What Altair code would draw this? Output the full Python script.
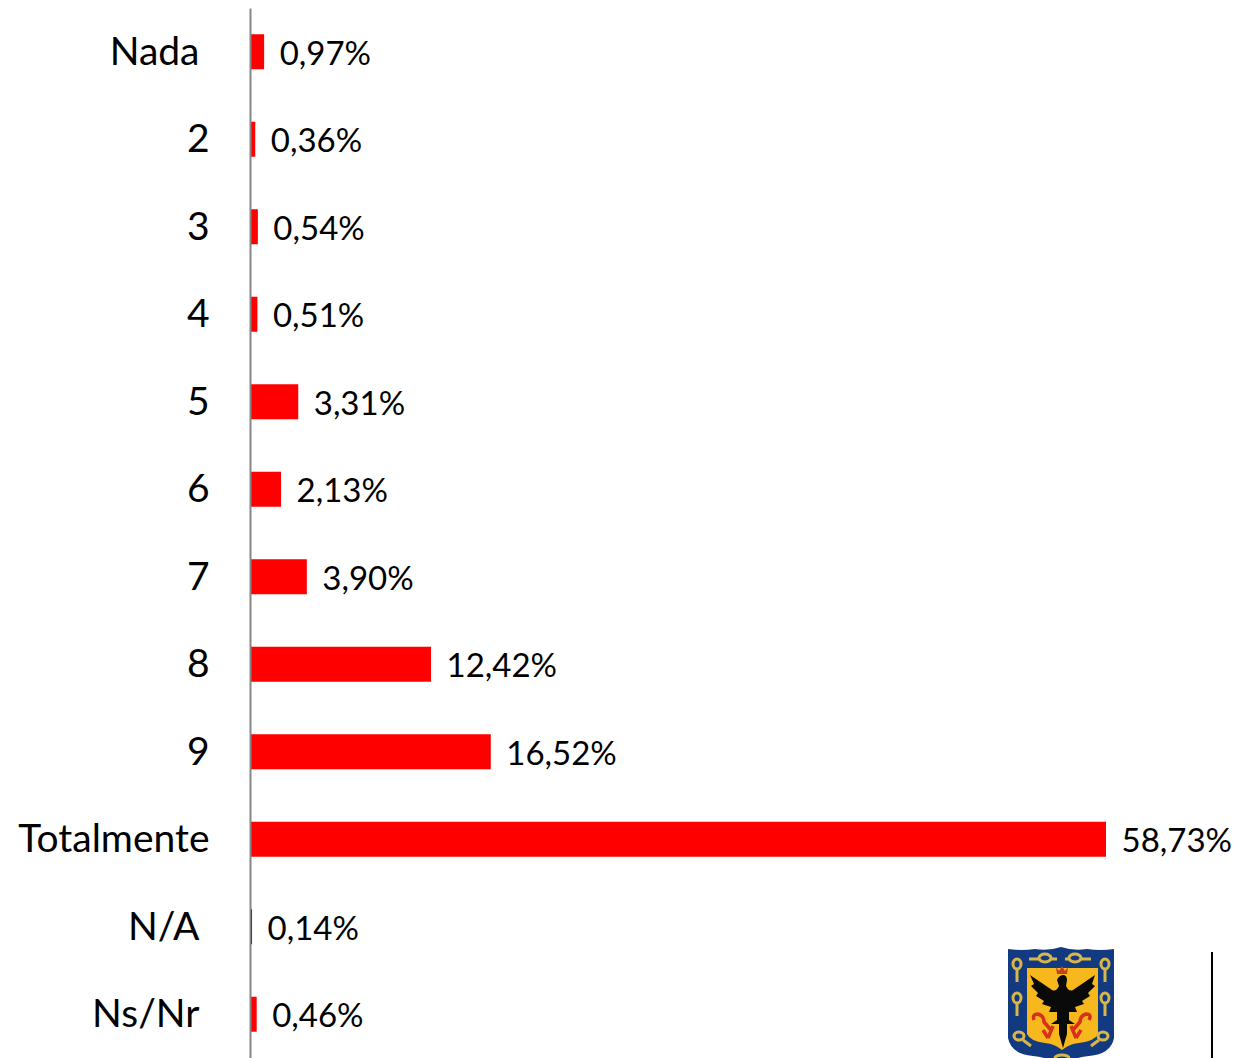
import base64
import altair as alt
import pandas as pd

categories = ["Nada", "2", "3", "4", "5", "6", "7", "8", "9", "Totalmente", "N/A", "Ns/Nr"]
values = [0.97, 0.36, 0.54, 0.51, 3.31, 2.13, 3.90, 12.42, 16.52, 58.73, 0.14, 0.46]
labels = ["0,97%", "0,36%", "0,54%", "0,51%", "3,31%", "2,13%", "3,90%", "12,42%", "16,52%", "58,73%", "0,14%", "0,46%"]
shifted_labels = ["Nada", "N/A", "Ns/Nr"]

FONT = "Lato"
LEFT = 242
PLOT_W = 981
SVG_H = 1050
FULL_H = 1050
X_MAX = PLOT_W / 14.575

df = pd.DataFrame({"cat": categories, "val": values, "label": labels})

# Escudo (logotipo) dibujado como SVG vectorial
shield_svg = """<svg xmlns='http://www.w3.org/2000/svg' viewBox='0 0 108 118' width='108' height='118'>
<path d='M1 3 Q14 5 28 3 Q42 5 54 1 Q66 5 80 3 Q94 5 107 3 L107 92 Q104 108 82 110 Q66 112 54 118 Q42 112 26 110 Q4 108 1 92 Z' fill='#123a80'/>
<path d='M20 22 L91 22 L91 88 Q88 95 72 97 Q62 98 55 104 Q48 98 38 97 Q23 95 20 88 Z' fill='#f6b81c'/>
<g fill='none' stroke='#d9b64a' stroke-width='3'>
<ellipse cx='10' cy='18' rx='4' ry='5'/><path d='M10 23 V36'/>
<ellipse cx='10' cy='52' rx='4' ry='5'/><path d='M10 57 V70'/>
<ellipse cx='12' cy='90' rx='5' ry='4'/><path d='M16 94 L24 100'/>
<ellipse cx='98' cy='18' rx='4' ry='5'/><path d='M98 23 V36'/>
<ellipse cx='98' cy='52' rx='4' ry='5'/><path d='M98 57 V70'/>
<ellipse cx='96' cy='90' rx='5' ry='4'/><path d='M92 94 L84 100'/>
<ellipse cx='38' cy='12' rx='6' ry='4'/><path d='M22 13 H32 M44 13 H50'/>
<ellipse cx='68' cy='12' rx='6' ry='4'/><path d='M58 13 H62 M74 13 H84'/>
<ellipse cx='55' cy='112' rx='7' ry='3'/>
</g>
<path d='M50 34 Q52 29 57 29 Q60 30 60 34 L59 40 Q62 46 66 44 L88 29 L85 38 L88 40 L81 47 L83 50 L75 55 L77 58 L68 61 L70 66 L62 66 L62 74 L68 78 L60 78 L60 88 L56 102 L52 88 L52 78 L44 78 L50 74 L50 66 L42 66 L44 61 L35 58 L37 55 L29 50 L31 47 L24 40 L27 38 L23 29 L45 44 Q49 46 52 40 Z' fill='#0a0a0a'/>
<path d='M49 21 L52 25 L55 20 L58 25 L61 21 L60 28 H50 Z' fill='#c8401a'/>
<g fill='none' stroke='#d8301a' stroke-width='3.5'>
<path d='M27 74 Q25 68 31 68 Q37 70 37 76 L44 84 M36 84 L41 92 M46 80 L41 92'/>
<path d='M82 74 Q85 68 79 68 Q73 70 73 76 L66 84 M74 84 L69 92 M64 80 L69 92'/>
</g>
</svg>"""
logo_uri = "data:image/svg+xml;base64," + base64.b64encode(shield_svg.encode()).decode()

y = alt.Y(
    "cat:N",
    sort=categories,
    title=None,
    scale=alt.Scale(paddingInner=0.6, paddingOuter=0.3, range=[0, FULL_H]),
    axis=alt.Axis(
        ticks=False,
        grid=False,
        domainColor="#868686",
        domainWidth=2,
        labelFont=FONT,
        labelFontSize=39,
        labelColor="#000000",
        labelLimit=300,
        labelOffset=1,
        zindex=1,
        labelPadding={
            "condition": {"test": "indexof(%r, datum.value) >= 0" % shifted_labels, "value": 51},
            "value": 41,
        },
    ),
)
x = alt.X(
    "val:Q",
    title=None,
    scale=alt.Scale(domain=[0, X_MAX], nice=False, zero=True),
    axis=None,
)

bars = alt.Chart(df).mark_bar(size=35).encode(
    x=x,
    y=y,
    color=alt.condition("datum.cat === 'N/A'", alt.value("#000000"), alt.value("#ff0000")),
)

texts = alt.Chart(df).mark_text(
    align="left", baseline="middle", dx=15.5, dy=3, font=FONT, fontSize=33, color="#000000"
).encode(x=x, y=y, text="label:N")

rule = alt.Chart(df.head(1)).mark_rule(color="#000000", strokeWidth=2).encode(
    x=alt.value(962), y=alt.value(944), y2=alt.value(FULL_H)
)

logo = alt.Chart(pd.DataFrame({"url": [logo_uri]})).mark_image(
    width=108, height=118, align="left", baseline="top"
).encode(x=alt.value(757), y=alt.value(938), url="url:N")

chart = (
    alt.layer(bars, texts, rule, logo)
    .properties(
        width=PLOT_W,
        height=SVG_H,
        padding={"left": LEFT, "top": 0, "right": 0, "bottom": 0},
        autosize=alt.AutoSizeParams(type="none"),
        background="#ffffff",
    )
    .configure_view(stroke=None)
)
chart.save("out.html", embed_options={"renderer": "svg", "actions": False})
